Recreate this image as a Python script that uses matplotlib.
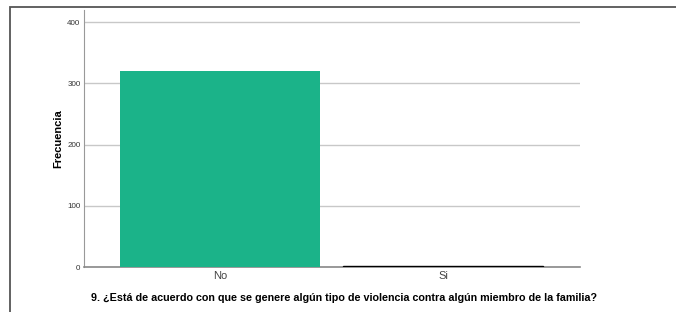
import matplotlib.pyplot as plt
from matplotlib.patches import Rectangle

plt.rcParams['font.family'] = ['Liberation Sans', 'DejaVu Sans']

categories = ['No', 'Si']
counts = [320, 1]

fig = plt.figure(figsize=(6.76, 3.12), dpi=100)
fig.patch.set_facecolor('white')

# outer frame of the output viewer
fig.patches.append(Rectangle((10 / 676, -0.2), 1.2, 1.2 - 7 / 312, transform=fig.transFigure,
                             fill=False, edgecolor='#555555', linewidth=1.3))

ax = fig.add_axes([84 / 676, 45 / 312, 496 / 676, 257 / 312])
bars = ax.bar(range(len(categories)), counts, width=0.897, color='#1bb389', zorder=3)
bars[1].set_edgecolor('black')
bars[1].set_linewidth(1.0)

ax.set_xlim(-0.61, 1.614)
ax.set_ylim(0, 420)
ax.set_yticks([0, 100, 200, 300, 400])
ax.set_xticks(range(len(categories)))
ax.set_xticklabels(categories, fontsize=8, color='#444444')
ax.tick_params(axis='y', length=0, labelsize=5.8, labelcolor='#333333', pad=2.5)
ax.tick_params(axis='x', length=0, pad=3)

ax.grid(axis='y', color='#c8c8c8', linewidth=1, zorder=0)
for s in ['top', 'right']:
    ax.spines[s].set_visible(False)
ax.spines['left'].set_color('#999999')
ax.spines['bottom'].set_color('#888888')
ax.spines['bottom'].set_linewidth(1.2)

ax.set_ylabel('Frecuencia', fontsize=8, fontweight='bold', labelpad=3)
ax.set_xlabel('9. ¿Está de acuerdo con que se genere algún tipo de violencia contra algún miembro de la familia?',
              fontsize=7.75, fontweight='bold')
ax.xaxis.set_label_coords(0.524, -0.10)

fig.savefig('out.png', dpi=100)
